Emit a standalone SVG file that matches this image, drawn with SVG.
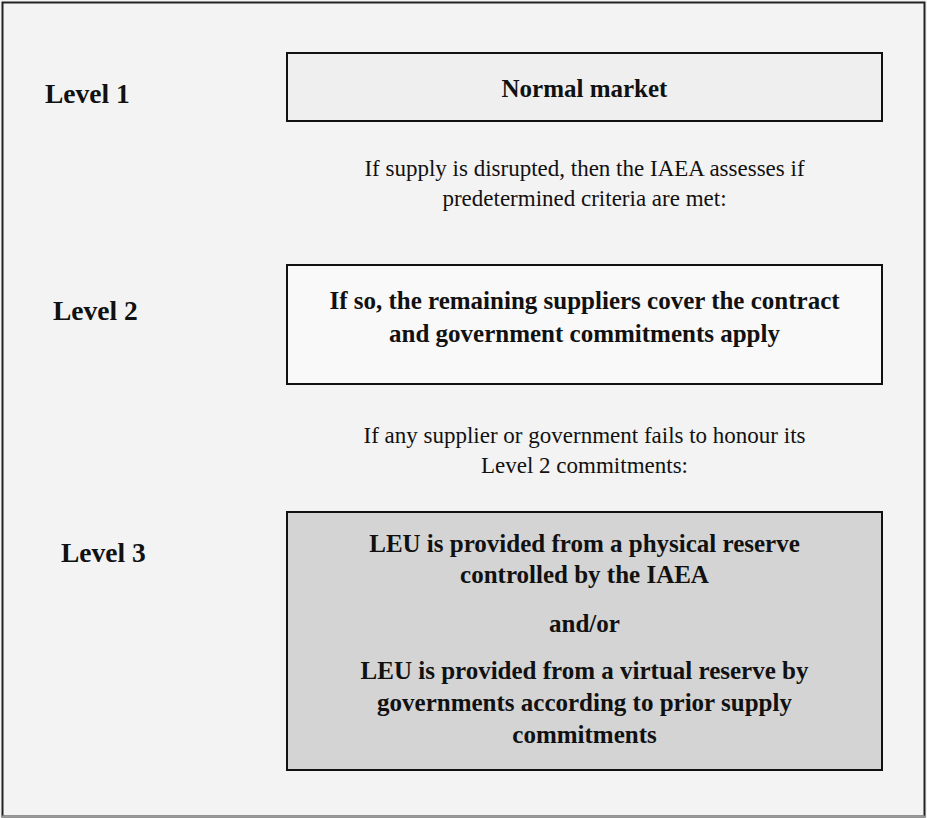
<svg xmlns="http://www.w3.org/2000/svg" width="927" height="818" viewBox="0 0 927 818">
  <style>
    .bold { font-family: "Liberation Serif", "Times New Roman", serif; font-weight: bold; font-size: 25px; fill: #111; }
    .lvl { font-family: "Liberation Serif", "Times New Roman", serif; font-weight: bold; font-size: 27.5px; fill: #111; }
    .reg { font-family: "Liberation Serif", "Times New Roman", serif; font-size: 23px; fill: #111; }
    .mid { text-anchor: middle; }
    .box { stroke: #111; stroke-width: 2; }
  </style>
  <rect x="0" y="0" width="927" height="818" fill="#f3f3f3"/>
  <rect x="2.5" y="2.5" width="922" height="814" fill="#f3f3f3" stroke="#222" stroke-width="2"/>
  <line x1="2" y1="816.5" x2="925" y2="816.5" stroke="#999" stroke-width="2"/>

  <g id="level1">
    <text class="lvl" x="45" y="103">Level 1</text>
  </g>
  <g id="level2">
    <text class="lvl" x="53" y="320">Level 2</text>
  </g>
  <g id="level3">
    <text class="lvl" x="61" y="562">Level 3</text>
  </g>

  <g id="box1">
    <rect class="box" x="287" y="53" width="595" height="68" fill="#efefef"/>
    <text class="bold mid" x="584.5" y="97">Normal market</text>
  </g>

  <g id="cond1">
    <text class="reg mid" x="584.5" y="176">If supply is disrupted, then the IAEA assesses if</text>
    <text class="reg mid" x="584.5" y="206">predetermined criteria are met:</text>
  </g>

  <g id="box2">
    <rect class="box" x="287" y="265" width="595" height="119" fill="#f9f9f9"/>
    <text class="bold mid" x="584.5" y="309">If so, the remaining suppliers cover the contract</text>
    <text class="bold mid" x="584.5" y="342">and government commitments apply</text>
  </g>

  <g id="cond2">
    <text class="reg mid" x="584.5" y="443">If any supplier or government fails to honour its</text>
    <text class="reg mid" x="584.5" y="473">Level 2 commitments:</text>
  </g>

  <g id="box3">
    <rect class="box" x="287" y="512" width="595" height="258" fill="#d4d4d4"/>
    <text class="bold mid" x="584.5" y="552">LEU is provided from a physical reserve</text>
    <text class="bold mid" x="584.5" y="583">controlled by the IAEA</text>
    <text class="bold mid" x="584.5" y="632">and/or</text>
    <text class="bold mid" x="584.5" y="679">LEU is provided from a virtual reserve by</text>
    <text class="bold mid" x="584.5" y="711">governments according to prior supply</text>
    <text class="bold mid" x="584.5" y="743">commitments</text>
  </g>

  <g id="connectors"></g>
</svg>
